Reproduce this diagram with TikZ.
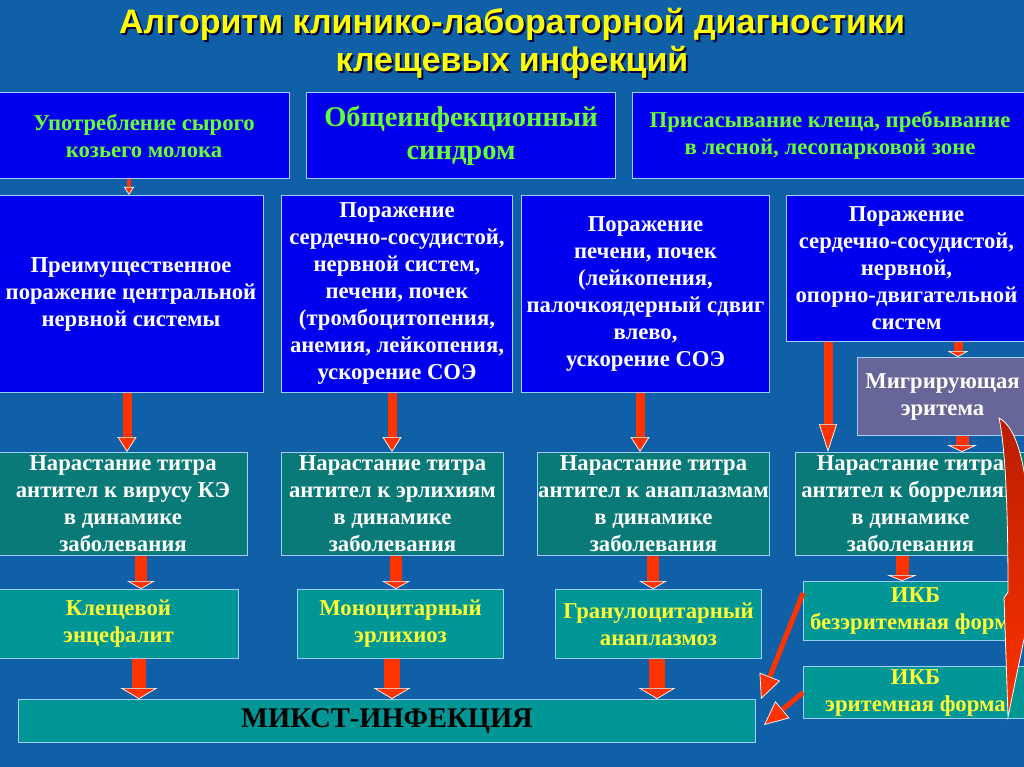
\documentclass[tikz,border=0pt]{standalone}
\usepackage{fontspec}
\setmainfont{Liberation Serif}
\newfontfamily\titlefont{Liberation Sans}
\usetikzlibrary{arrows.meta,calc}
\definecolor{bgblue}{RGB}{16,96,168}
\definecolor{boxblue}{RGB}{0,0,238}
\definecolor{boxline}{RGB}{160,205,255}
\definecolor{tealdark}{RGB}{10,122,120}
\definecolor{teallight}{RGB}{0,150,150}
\definecolor{violetbox}{RGB}{102,102,153}
\definecolor{txtgreen}{RGB}{102,255,51}
\definecolor{txtyellow}{RGB}{255,255,51}
\definecolor{titleyellow}{RGB}{255,255,0}
\definecolor{arrowred}{RGB}{255,51,0}
\definecolor{darkred}{RGB}{185,30,0}
\tikzset{
  box/.style={draw=boxline, line width=1pt, inner sep=0pt, align=center, anchor=north west,
    font=\bfseries\fontsize{22.7}{27}\selectfont},
  bluebox/.style={box, fill=boxblue, text=white},
  greenbox/.style={bluebox, text=txtgreen},
  titrbox/.style={box, fill=tealdark, text=white},
  diseasebox/.style={box, fill=teallight, text=txtyellow},
  vbox/.style={box, fill=violetbox, text=white},
  titletext/.style={align=center, font=\titlefont\bfseries\fontsize{34}{38}\selectfont},
  redarrow/.style n args={3}{draw=arrowred, line width=#1,
    -{Triangle[width=#2, length=#3, fill=arrowred, color=white, line width=0.7pt]}}
}
\begin{document}
\begin{tikzpicture}[x=1pt,y=-1pt]
\fill[bgblue] (0,0) rectangle (1024,767);
\useasboundingbox (0,0) rectangle (1024,767);

% title
\node[titletext, text=black!80!blue] at (514,45) {Алгоритм клинико-лабораторной диагностики\\клещевых инфекций};
\node[titletext, text=titleyellow] (title) at (512,43) {Алгоритм клинико-лабораторной диагностики\\клещевых инфекций};

% row 1
\node[greenbox, minimum width=291pt, minimum height=86pt] (A1) at (-2,92) {Употребление сырого\\козьего молока};
\node[greenbox, minimum width=309pt, minimum height=86pt, font=\bfseries\fontsize{28.5}{33}\selectfont] (A2) at (306,92) {Общеинфекционный\\синдром};
\node[greenbox, minimum width=395pt, minimum height=86pt] (A3) at (632,92) {Присасывание клеща, пребывание\\в лесной, лесопарковой зоне};

% row 2
\node[bluebox, minimum width=265pt, minimum height=197pt] (B1) at (-2,195) {Преимущественное\\поражение центральной\\нервной системы};
\node[bluebox, minimum width=231pt, minimum height=197pt] (B2) at (281,195) {Поражение\\сердечно-сосудистой,\\нервной систем,\\печени, почек\\(тромбоцитопения,\\анемия, лейкопения,\\ускорение СОЭ};
\node[bluebox, minimum width=248pt, minimum height=197pt] (B3) at (521,195) {Поражение\\печени, почек\\(лейкопения,\\палочкоядерный сдвиг\\влево,\\ускорение СОЭ};
\node[bluebox, minimum width=240pt, minimum height=146pt] (B4) at (786,195) {Поражение\\сердечно-сосудистой,\\нервной,\\опорно-двигательной\\систем};
\node[vbox, minimum width=170pt, minimum height=78pt] (M) at (857,357) {Мигрирующая\\эритема};

% row 3
\node[titrbox, minimum width=249pt, minimum height=103pt] (C1) at (-2,452) {Нарастание титра\\антител к вирусу КЭ\\в динамике\\заболевания};
\node[titrbox, minimum width=222pt, minimum height=103pt] (C2) at (281,452) {Нарастание титра\\антител к эрлихиям\\в динамике\\заболевания};
\node[titrbox, minimum width=232pt, minimum height=103pt] (C3) at (537,452) {Нарастание титра\\антител к анаплазмам\\в динамике\\заболевания};
\node[titrbox, minimum width=230pt, minimum height=103pt] (C4) at (795,452) {Нарастание титра\\антител к боррелиям\\в динамике\\заболевания};

% row 4
\node[diseasebox, minimum width=240pt, minimum height=69pt] (D1) at (-2,589) {Клещевой\\энцефалит};
\node[diseasebox, minimum width=206pt, minimum height=69pt] (D2) at (297,589) {Моноцитарный\\эрлихиоз};
\node[diseasebox, minimum width=206pt, minimum height=69pt] (D3) at (555,589) {Гранулоцитарный\\анаплазмоз};
\node[diseasebox, minimum width=224pt, minimum height=59pt] (D4) at (803,581) {ИКБ\\безэритемная форма};
\node[diseasebox, minimum width=224pt, minimum height=52pt] (D5) at (803,666) {ИКБ\\эритемная форма};

% row 5
\node[diseasebox, minimum width=737pt, minimum height=43pt, text=black, font=\bfseries\fontsize{28.5}{30}\selectfont] (E) at (18,699) {МИКСТ-ИНФЕКЦИЯ};

% column coordinates
\coordinate (x0) at (129,0);
\coordinate (x1) at (127,0);
\coordinate (x1b) at (141,0);
\coordinate (x1c) at (139,0);
\coordinate (x2) at (392,0);
\coordinate (x2b) at (396,0);
\coordinate (x3) at (640,0);
\coordinate (x3b) at (653,0);
\coordinate (x3c) at (657,0);
\coordinate (x4) at (828,0);
\coordinate (x4b) at (958,0);
\coordinate (x4c) at (962,0);
\coordinate (x4d) at (902,0);

% arrows
\draw[redarrow={4pt}{10pt}{8pt}] (A1.south -| x0) -- (B1.north -| x0);
\draw[redarrow={9pt}{19pt}{15pt}] (B1.south -| x1) -- (C1.north -| x1);
\draw[redarrow={9pt}{19pt}{15pt}] (B2.south -| x2) -- (C2.north -| x2);
\draw[redarrow={9pt}{19pt}{15pt}] (B3.south -| x3) -- (C3.north -| x3);
\draw[redarrow={9pt}{18pt}{28pt}] (B4.south -| x4) -- (C4.north -| x4);
\draw[redarrow={9pt}{21pt}{6pt}] (B4.south -| x4b) -- (M.north -| x4b);
\draw[redarrow={13pt}{30pt}{7pt}] (M.south -| x4c) -- (C4.north -| x4c);

\draw[redarrow={12pt}{28pt}{8pt}] (C1.south -| x1b) -- (D1.north -| x1b);
\draw[redarrow={12pt}{28pt}{8pt}] (C2.south -| x2b) -- (D2.north -| x2b);
\draw[redarrow={12pt}{28pt}{8pt}] (C3.south -| x3b) -- (D3.north -| x3b);
\draw[redarrow={13pt}{30pt}{6pt}] (C4.south -| x4d) -- (D4.north -| x4d);

\draw[redarrow={14pt}{37pt}{11pt}] (D1.south -| x1c) -- (E.north -| x1c);
\draw[redarrow={16pt}{37pt}{11pt}] (D2.south -| x2) -- (E.north -| x2);
\draw[redarrow={16pt}{37pt}{11pt}] (D3.south -| x3c) -- (E.north -| x3c);

% curved arrow from erythema to erythema form
\path[draw=white, line width=0.8pt, top color=darkred, bottom color=arrowred, shading angle=0]
  (999,418) .. controls (1018,428) and (1028,470) .. (1030,540)
  -- (1032,600) -- (1008,717) -- (1004,598) -- (1008,592)
  .. controls (1008,520) and (1006,450) .. (999,418) -- cycle;

% diagonal arrows
\draw[redarrow={5pt}{22pt}{24pt}] ([yshift=18pt]D4.west) -- ([xshift=5pt]E.north east);
\draw[redarrow={5pt}{22pt}{24pt}] (D5.west) -- ([xshift=8pt,yshift=-4pt]E.east);
\end{tikzpicture}
\end{document}
